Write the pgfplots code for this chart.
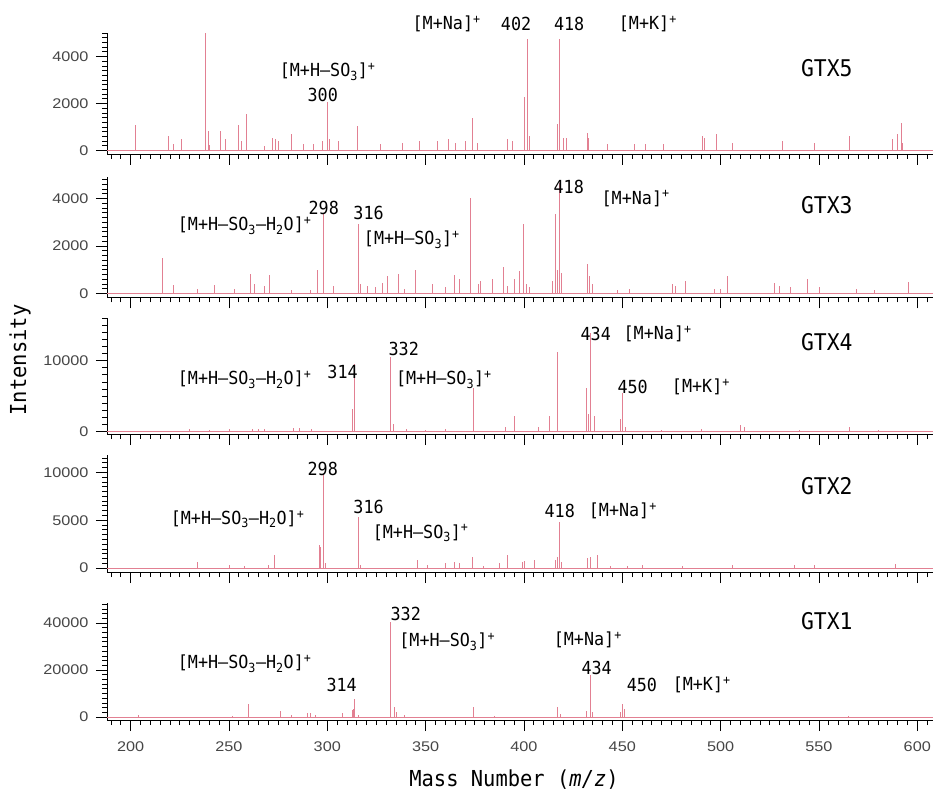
\documentclass[border=0pt]{standalone}
\usepackage{pgfplots}
\pgfplotsset{compat=1.18}
\usepackage{fontspec}
\setmainfont{Liberation Sans}
\newfontfamily\annfont[FakeStretch=0.93]{DejaVu Sans Mono}
\newfontfamily\tickfont[FakeStretch=1.16]{Liberation Sans}

\definecolor{peak}{RGB}{226,128,146}
\definecolor{ticktext}{RGB}{70,70,70}

\newcommand{\ann}{\annfont\fontsize{18bp}{20bp}\selectfont}
\newcommand{\gtx}{\annfont\fontsize{23bp}{25bp}\selectfont}
\newcommand{\ion}[1]{[M+#1]\textsuperscript{+}}
\newcommand{\lossS}{[M+H–SO\textsubscript{3}]\textsuperscript{+}}
\newcommand{\lossSW}{[M+H–SO\textsubscript{3}–H\textsubscript{2}O]\textsuperscript{+}}

\tikzset{
  lab/.style={font=\ann, inner sep=0pt},
  tag/.style={font=\gtx, inner sep=0pt},
}

\pgfplotsset{
  spec/.style={
    scale only axis, width=826bp,
    xmin=188, xmax=608,
    axis x line*=bottom, axis y line*=left,
    axis line style={black, line width=0.8bp, -},
    x axis line style={-}, y axis line style={-},
    xtick={200,250,...,600}, minor xtick={190,195,...,605},
    tick align=outside,
    major tick length=11bp, minor tick length=5bp,
    tick style={black, line width=0.7bp},
    scaled y ticks=false,
    /pgf/number format/1000 sep={},
    /pgf/number format/assume math mode=true,
    ticklabel style={font=\tickfont\fontsize{14bp}{16bp}\selectfont, text=ticktext},
    yticklabel style={xshift=-4bp},
    xticklabel style={yshift=-7bp},
    clip=false,
    anchor=north west,
  },
  peaks/.style={ycomb, no markers, peak, line width=0.75bp},
  base/.style={no markers, peak, line width=0.9bp},
}

\begin{document}
\begin{tikzpicture}[x=1bp,y=1bp]

% ---------------- GTX5 ----------------
\begin{axis}[spec, at={(107bp,-33bp)}, height=121bp,
  ymin=-150, ymax=5000, ytick={0,2000,4000}, minor ytick={0,200,...,5000},
  xticklabels={}]
\addplot[base] coordinates {(188,0) (608,0)};
\addplot[peaks] coordinates {
(202.5,1100) (219,600) (222,260) (226,470) (238,5000) (239.3,830) (240.3,250)
(245.4,830) (248,500) (254.6,1100) (256.3,400) (258.8,1540) (268,180) (272,540)
(273.5,470) (275,400) (282,690) (287.7,260) (293,260) (297.3,400) (300,2050)
(301,470) (305.5,400) (315.3,1040) (327,260) (338,330) (346.6,400) (356,400)
(361.8,470) (365,330) (370,400) (373.8,1400) (376.4,330) (391.6,470) (394,400)
(400.1,2260) (402,4750) (403,615) (417,1115) (418,4750) (420,540) (421.6,540)
(432.3,760) (433,540) (442.6,260) (456,260) (462,260) (471,260) (490.8,615)
(491.6,540) (497.6,690) (506,330) (531.5,400) (547.6,330) (565.4,615) (587.4,470)
(590,690) (591.7,1190) (592.5,330)};
\node[lab] at (360.7,5400) {\ion{Na}};
\node[lab] at (396,5400) {402};
\node[lab] at (423,5400) {418};
\node[lab] at (463,5400) {\ion{K}};
\node[lab] at (300.2,3350) {\lossS};
\node[lab] at (297.7,2380) {300};
\node[tag] at (554,3510) {GTX5};
\end{axis}

% ---------------- GTX3 ----------------
\begin{axis}[spec, at={(107bp,-177bp)}, height=120.4bp,
  ymin=-170, ymax=4900, ytick={0,2000,4000}, minor ytick={0,200,...,4800},
  xticklabels={}]
\addplot[base] coordinates {(188,0) (608,0)};
\addplot[peaks] coordinates {
(216,1490) (222,345) (234,180) (242.4,345) (252.6,180) (260.7,800) (262.7,390)
(268,290) (270.8,760) (282,150) (291.6,150) (295,980) (298,3350) (303.2,290)
(316,2940) (317,390) (320.4,320) (324.6,250) (328,455) (330.5,730) (336.4,800)
(339,180) (344.9,980) (353.4,390) (360.2,250) (364.4,760) (367,590) (373,4000)
(376.7,390) (378,525) (384,590) (389.5,1120) (391.6,320) (395,590) (397.5,940)
(399.5,2940) (401,390) (402.6,250) (414.5,525) (415.8,3350) (417,1000) (418,4650)
(419,870) (432.3,1255) (433.2,730) (434.9,390) (447.6,150) (453.5,180) (475.5,390)
(477,320) (482.3,525) (496.7,180) (500,180) (503.5,730) (527.2,455) (529.8,320)
(535.7,250) (544.3,590) (550.2,250) (568.9,180) (578,150) (595.6,480)};
\node[lab] at (258,2840) {\lossSW};
\node[lab] at (298.2,3600) {298};
\node[lab] at (321,3390) {316};
\node[lab] at (343,2250) {\lossS};
\node[lab] at (422.8,4480) {418};
\node[lab] at (456.8,4000) {\ion{Na}};
\node[tag] at (554,3700) {GTX3};
\end{axis}

% ---------------- GTX4 ----------------
\begin{axis}[spec, at={(107bp,-318bp)}, height=116bp,
  ymin=-350, ymax=16000, ytick={0,10000}, minor ytick={0,1000,...,16000},
  xticklabels={}]
\addplot[base] coordinates {(188,0) (608,0)};
\addplot[peaks] coordinates {
(230,300) (240,250) (250,300) (262,350) (265,400) (268,300) (283,500) (286,450)
(292,350) (312.8,3160) (314,9500) (332,10450) (333.5,1040) (340,300) (350,250)
(360,300) (374.3,6100) (390.8,660) (395,2220) (407.5,570) (412.8,2220) (417,11200)
(431.9,6140) (433,2450) (434,13900) (435.7,2220) (449.2,1750) (450,5500)
(451.7,660) (470,250) (490,300) (510.3,940) (512,660) (540,250) (565.5,660)
(580,250)};
\node[lab] at (258,7320) {\lossSW};
\node[lab] at (307.8,8450) {314};
\node[lab] at (338.9,11690) {332};
\node[lab] at (359.3,7300) {\lossS};
\node[lab] at (436.5,13730) {434};
\node[lab] at (468,13730) {\ion{Na}};
\node[lab] at (455.3,6270) {450};
\node[lab] at (490,6300) {\ion{K}};
\node[tag] at (554,12600) {GTX4};
\end{axis}

% ---------------- GTX2 ----------------
\begin{axis}[spec, at={(107bp,-455bp)}, height=117bp,
  ymin=-400, ymax=11800, ytick={0,5000,10000}, minor ytick={0,500,...,11500},
  xticklabels={}]
\addplot[base] coordinates {(188,0) (608,0)};
\addplot[peaks] coordinates {
(233.9,690) (250,345) (258,240) (270,345) (272.9,1380) (295.8,2415) (296.6,2240)
(298,9800) (299,520) (316,5350) (317,345) (345.8,860) (351,345) (360,520)
(364.4,690) (367,520) (373.8,1200) (379.6,240) (387.3,520) (391.6,1380)
(399.2,690) (400.1,790) (405.2,860) (416.2,860) (417,1200) (418,4850) (419,690)
(432.3,1035) (433.6,1200) (437.4,1380) (444,240) (452.6,240) (460,345)
(480.5,240) (506,345) (537.3,345) (547.6,345) (589,450)};
\node[lab] at (297.7,10370) {298};
\node[lab] at (254.4,5100) {\lossSW};
\node[lab] at (321,6400) {316};
\node[lab] at (347.5,3650) {\lossS};
\node[lab] at (418.2,5940) {418};
\node[lab] at (450.3,5940) {\ion{Na}};
\node[tag] at (554,8540) {GTX2};
\end{axis}

% ---------------- GTX1 ----------------
\begin{axis}[spec, at={(107bp,-603bp)}, height=117bp,
  ymin=-1300, ymax=48500, ytick={0,20000,40000}, minor ytick={0,2000,...,48000}]
\addplot[base] coordinates {(188,0) (608,0)};
\addplot[peaks] coordinates {
(204,700) (251.5,430) (259.7,5700) (276,2430) (281.5,700) (290,1860) (291.4,1860)
(294.2,700) (307.7,1860) (312.6,2860) (313.2,3570) (314,7500) (316,1000)
(332,40500) (334,4290) (335,2140) (339,700) (374.3,4290) (384.8,430) (417,4290)
(418.3,1430) (431.9,2430) (434,17700) (434.9,2140) (449.2,2140) (450,5700)
(451,3570) (565,430)};
\node[lab] at (339.9,44040) {332};
\node[lab] at (361,32000) {\lossS};
\node[lab] at (258,22600) {\lossSW};
\node[lab] at (307.3,13600) {314};
\node[lab] at (432.5,32760) {\ion{Na}};
\node[lab] at (437,21060) {434};
\node[lab] at (460,13600) {450};
\node[lab] at (490.4,13600) {\ion{K}};
\node[tag] at (554,40850) {GTX1};
\end{axis}

% axis titles
\node[font=\annfont\fontsize{22bp}{24bp}\selectfont, rotate=90] at (20bp,-360bp) {Intensity};
\node[font=\annfont\fontsize{22bp}{24bp}\selectfont] at (514bp,-780bp) {Mass Number (\textit{m/z})};

\pgfresetboundingbox
\path[use as bounding box] (0,0) rectangle (936bp,-795bp);
\end{tikzpicture}
\end{document}
